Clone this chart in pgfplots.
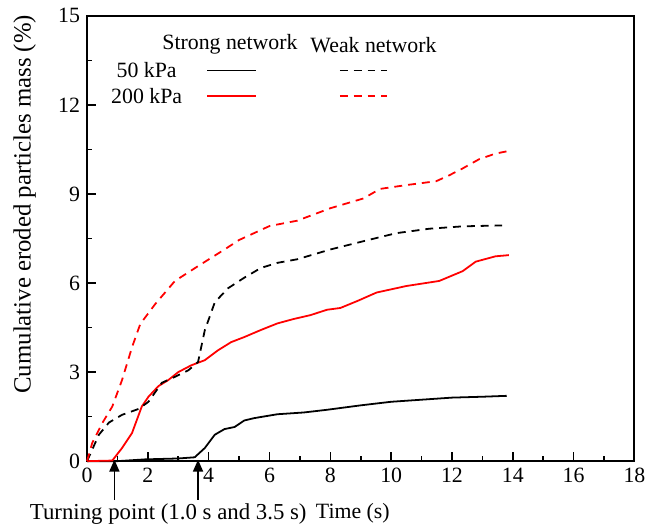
\documentclass[border=0pt]{standalone}
\usepackage{fontspec}
\setmainfont{Liberation Serif}
\usepackage{pgfplots}
\pgfplotsset{compat=1.18}
\usetikzlibrary{arrows.meta}

\begin{document}
\begin{tikzpicture}
\begin{axis}[
    scale only axis,
    width=276pt,
    height=224.5pt,
    xmin=0, xmax=18,
    ymin=0, ymax=15,
    xtick={0,2,...,18},
    ytick={0,3,...,15},
    xticklabel={\textrm{\pgfmathprintnumber[assume math mode=true]{\tick}}},
    yticklabel={\textrm{\pgfmathprintnumber[assume math mode=true]{\tick}}},
    minor x tick num=1,
    minor y tick num=1,
    xtick pos=bottom,
    ytick pos=left,
    tick align=inside,
    major tick length=4.5pt,
    minor tick length=2.5pt,
    axis line style={line width=1pt},
    every tick/.style={black, line width=0.8pt},
    tick label style={font=\fontsize{11}{12}\selectfont},
    clip=false,
]
% 50 kPa, strong network
\addplot[black, line width=0.9pt] coordinates {
    (0,0) (1,0.0) (1.91,0.06) (3.0,0.09) (3.54,0.13) (3.87,0.44) (4.2,0.89)
    (4.52,1.08) (4.85,1.15) (5.17,1.37) (5.5,1.45) (6.26,1.58) (7.13,1.64)
    (7.89,1.73) (9,1.88) (10,2.0) (11,2.07) (12,2.14) (13,2.17) (13.8,2.2)
};
% 200 kPa, strong network
\addplot[red, line width=0.9pt] coordinates {
    (0,0) (0.83,0.02) (1.15,0.44) (1.48,0.95) (1.8,1.84) (2.02,2.17)
    (2.35,2.53) (2.67,2.73) (3.0,3.0) (3.43,3.23) (3.87,3.4) (4.3,3.73)
    (4.74,4.01) (5.17,4.18) (5.72,4.42) (6.26,4.64) (6.8,4.79) (7.35,4.92)
    (7.89,5.1) (8.33,5.16) (8.9,5.4) (9.52,5.68) (10.5,5.9) (11.58,6.07)
    (12.35,6.4) (12.78,6.72) (13.43,6.9) (13.87,6.94)
};
% 50 kPa, weak network
\addplot[black, line width=0.9pt, dash pattern=on 4pt off 3pt] coordinates {
    (0,0) (0.39,0.89) (0.72,1.3) (1.15,1.56) (1.7,1.76) (2.02,2.0)
    (2.46,2.64) (2.89,2.84) (3.33,3.06) (3.65,3.34) (3.87,4.4) (4.2,5.35)
    (4.63,5.82) (5.17,6.18) (5.72,6.51) (6.26,6.68) (6.91,6.8) (8.0,7.13)
    (9.09,7.41) (10.17,7.68) (11.26,7.83) (12.35,7.91) (13.65,7.94)
};
% 200 kPa, weak network
\addplot[red, line width=0.9pt, dash pattern=on 4pt off 3pt] coordinates {
    (0,0) (0.17,0.61) (0.5,1.28) (0.83,1.84) (1.15,2.73) (1.48,3.84)
    (1.75,4.62) (2.24,5.29) (2.89,6.07) (3.65,6.57) (4.52,7.13) (5,7.45)
    (6,7.92) (6.91,8.1) (8,8.52) (9.09,8.85) (9.63,9.17) (10.5,9.3)
    (11.48,9.43) (11.91,9.63) (12.35,9.86) (12.89,10.17) (13.43,10.36)
    (13.87,10.45)
};

% legend
\begin{scope}[font=\fontsize{11}{12}\selectfont]
\node at (axis cs:4.7,14.03) {Strong network};
\node at (axis cs:9.42,14.03) {Weak network};
\node at (axis cs:1.96,13.16) {50 kPa};
\node at (axis cs:1.96,12.31) {200 kPa};
\end{scope}
\draw[black, line width=0.9pt] (axis cs:3.95,13.16) -- (axis cs:5.54,13.16);
\draw[red, line width=0.9pt] (axis cs:3.95,12.31) -- (axis cs:5.54,12.31);
\draw[black, line width=0.9pt, dash pattern=on 4pt off 3pt] (axis cs:8.31,13.16) -- (axis cs:9.85,13.16);
\draw[red, line width=0.9pt, dash pattern=on 4pt off 3pt] (axis cs:8.31,12.31) -- (axis cs:9.85,12.31);

% turning points
\draw[line width=0.9pt, -{Triangle[length=6pt,width=5pt]}] (axis cs:0.9,-1.3) -- (axis cs:0.9,0.05);
\draw[line width=0.9pt, -{Triangle[length=6pt,width=5pt]}] (axis cs:3.65,-1.3) -- (axis cs:3.65,0.05);
\node[font=\fontsize{11.5}{13}\selectfont] at (axis cs:2.67,-1.77) {Turning point (1.0 s and 3.5 s)};
\node[font=\fontsize{11}{13}\selectfont] at (axis cs:8.74,-1.77) {Time (s)};
\node[rotate=90, font=\fontsize{12.5}{14}\selectfont] at (axis description cs:-0.114,0.577) {Cumulative eroded particles mass (\%)};

% page extent as in the reference
\path (axis description cs:-0.159,-0.147) (axis description cs:1.0217,1.0356);
\end{axis}
\end{tikzpicture}
\end{document}
